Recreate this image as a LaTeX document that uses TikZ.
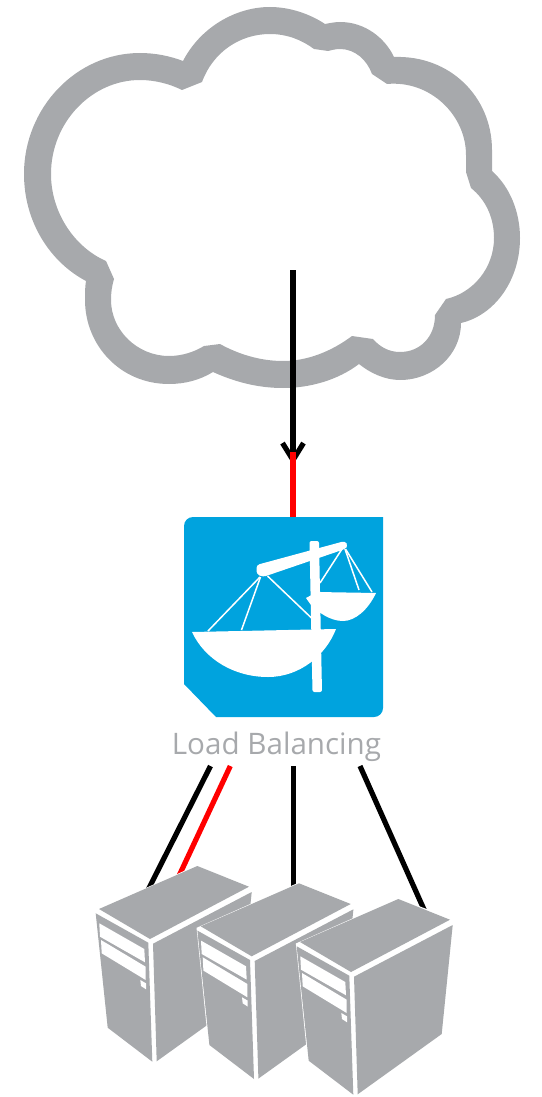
\documentclass[tikz,border=0pt]{standalone}
\usepackage{fontspec}
\setmainfont{Open Sans}
\usetikzlibrary{arrows.meta}
\definecolor{srvgray}{HTML}{A7A9AC}
\definecolor{lbblue}{HTML}{00A3DE}
\tikzset{
    wire/.style={line width=5.2pt},
    cord/.style={white, line width=1.5pt},
    server/.pic={
        \path[fill=white, draw=white, line width=1.6pt] (95.7,911) -- (197.3,866) -- (252,887) -- (240.7,1001) -- (156,1063) -- (152,1063) -- (107.7,1029) -- cycle;
        \fill[srvgray] (99,909) -- (197.3,866) -- (249,886.7) -- (150,939) -- cycle;
        \fill[srvgray] (95.7,913.3) -- (148.3,942.7) -- (152.3,1061.7) -- (107.7,1027.7) -- cycle;
        \fill[srvgray] (153,943.7) -- (251.7,892) -- (240.7,1001) -- (156.7,1061.3) -- cycle;
        \fill[white] (99.3,923.3) -- (144.3,949) -- (145,962.3) -- (100,936.7) -- cycle;
        \fill[white] (101,940) -- (145.7,966.7) -- (145.7,980) -- (101.7,953.3) -- cycle;
        \fill[white] (140.3,980) -- (146,983.3) -- (146,989.3) -- (141,986) -- cycle;
    }
}
\begin{document}
\begin{tikzpicture}[x=1pt, y=-1pt, >={Straight Barb[length=17pt, width=21pt, line width=5.2pt]}]
    \useasboundingbox (0,0) rectangle (541,1097);
    \fill[srvgray, even odd rule] (183,61)
        .. controls (200,28) and (235,7) .. (270,7)
        .. controls (290,7) and (310,14) .. (325,24)
        .. controls (330,23) and (335,22) .. (340,22)
        .. controls (365,22) and (385,38) .. (394,57)
        .. controls (450,55) and (492,97) .. (492,150)
        .. controls (492,157) and (492,164) .. (492,171)
        .. controls (510,187) and (520,212) .. (520,238)
        .. controls (520,280) and (495,315) .. (461,323)
        .. controls (461,355) and (433,380) .. (400,380)
        .. controls (385,380) and (370,373) .. (359,364)
        .. controls (338,380) and (310,388) .. (283,388)
        .. controls (258,388) and (235,382) .. (213,372)
        .. controls (200,380) and (185,384) .. (169,384)
        .. controls (120,384) and (85,345) .. (85,300)
        .. controls (85,293) and (85,287) .. (86,281)
        .. controls (50,262) and (24,222) .. (24,174)
        .. controls (24,108) and (76,53) .. (140,53)
        .. controls (155,53) and (170,56) .. (183,61)
        -- cycle
        (202,82)
        .. controls (213,52) and (240,34) .. (270,34)
        .. controls (287,34) and (302,40) .. (314,49)
        -- (328,51)
        .. controls (332,50) and (336,49) .. (340,49)
        .. controls (355,49) and (367,60) .. (372,74)
        -- (387,84)
        .. controls (430,80) and (466,115) .. (466,155)
        .. controls (466,161) and (466,167) .. (466,172)
        -- (471,188)
        .. controls (486,200) and (494,218) .. (494,238)
        .. controls (494,268) and (473,293) .. (446,299)
        -- (435,315)
        .. controls (435,337) and (420,352) .. (400,352)
        .. controls (389,352) and (380,347) .. (373,339)
        -- (352,336)
        .. controls (332,351) and (308,361) .. (283,361)
        .. controls (260,361) and (238,354) .. (220,344)
        -- (204,346)
        .. controls (194,352) and (182,356) .. (169,356)
        .. controls (137,356) and (111,330) .. (111,300)
        .. controls (111,292) and (112,286) .. (114,279)
        -- (106,261)
        .. controls (74,247) and (51,212) .. (51,174)
        .. controls (51,122) and (92,80) .. (140,80)
        .. controls (155,80) and (170,84) .. (182,90)
        -- cycle;

    \node[minimum width=199pt, minimum height=200pt, inner sep=0pt] (lb) at (283.5,617) {};
    \node[text=srvgray, font=\fontsize{29.6}{29.6}\selectfont, inner sep=0pt] (lbl) at (276.5,747) {Load Balancing};
    \fill[lbblue, rounded corners=9pt] (184,640) -- (184,517) -- (340,517) [sharp corners] -- (383,517) [rounded corners=9pt] -- (383,717) -- (300,717) [sharp corners] -- (216,717) -- (184,684) -- cycle;

    \fill[white, rounded corners=2pt] (309.5,541) -- (319,541) -- (322,692) -- (312.5,692) -- cycle;
    \fill[white, rounded corners=3pt] (256.5,565) -- (345,541) -- (348,545.5) -- (345,549) -- (263,577) -- (256.5,574) -- cycle;
    \fill[white] (192,632) -- (336,629) .. controls (326,655) and (300,677) .. (268,677) .. controls (235,677) and (205,660) .. (192,632) -- cycle;
    \fill[white] (317,592) -- (376,593) .. controls (368,610) and (355,621) .. (343,621) .. controls (330,621) and (318,612) .. (311,605) -- (306,598) -- cycle;
    \draw[cord] (260,577) -- (208,631);
    \draw[cord] (260.5,577) -- (241.5,630);
    \draw[cord] (267.5,576) -- (311.5,618);
    \draw[cord] (342,549) -- (320,583);
    \draw[cord] (345,549) -- (359,590);
    \draw[cord] (345.5,549) -- (372,592);

    \coordinate (cloudin) at (293,270);
    \coordinate (lbtip) at (293,465);
    \coordinate (lbred) at (293,452);
    \coordinate (lbtop) at (293,517);
    \coordinate (l1) at (210.5,766);
    \coordinate (s1) at (146,894);
    \coordinate (l2) at (230.3,766);
    \coordinate (s2) at (178,878);
    \coordinate (l3) at (293.3,766);
    \coordinate (s3) at (293.3,890);
    \coordinate (l4) at (360,766);
    \coordinate (s4) at (426,914);

    \draw[wire, ->] (cloudin) -- (lbtip);
    \draw[wire, red] (lbred) -- (lbtop);
    \draw[wire] (l1) -- (s1);
    \draw[wire, red] (l2) -- (s2);
    \draw[wire] (l3) -- (s3);
    \draw[wire] (l4) -- (s4);

    \pic (srva) at (0,0) {server};
    \pic (srvb) at (101.7,17.3) {server};
    \pic (srvc) at (201,33) {server};
\end{tikzpicture}
\end{document}
